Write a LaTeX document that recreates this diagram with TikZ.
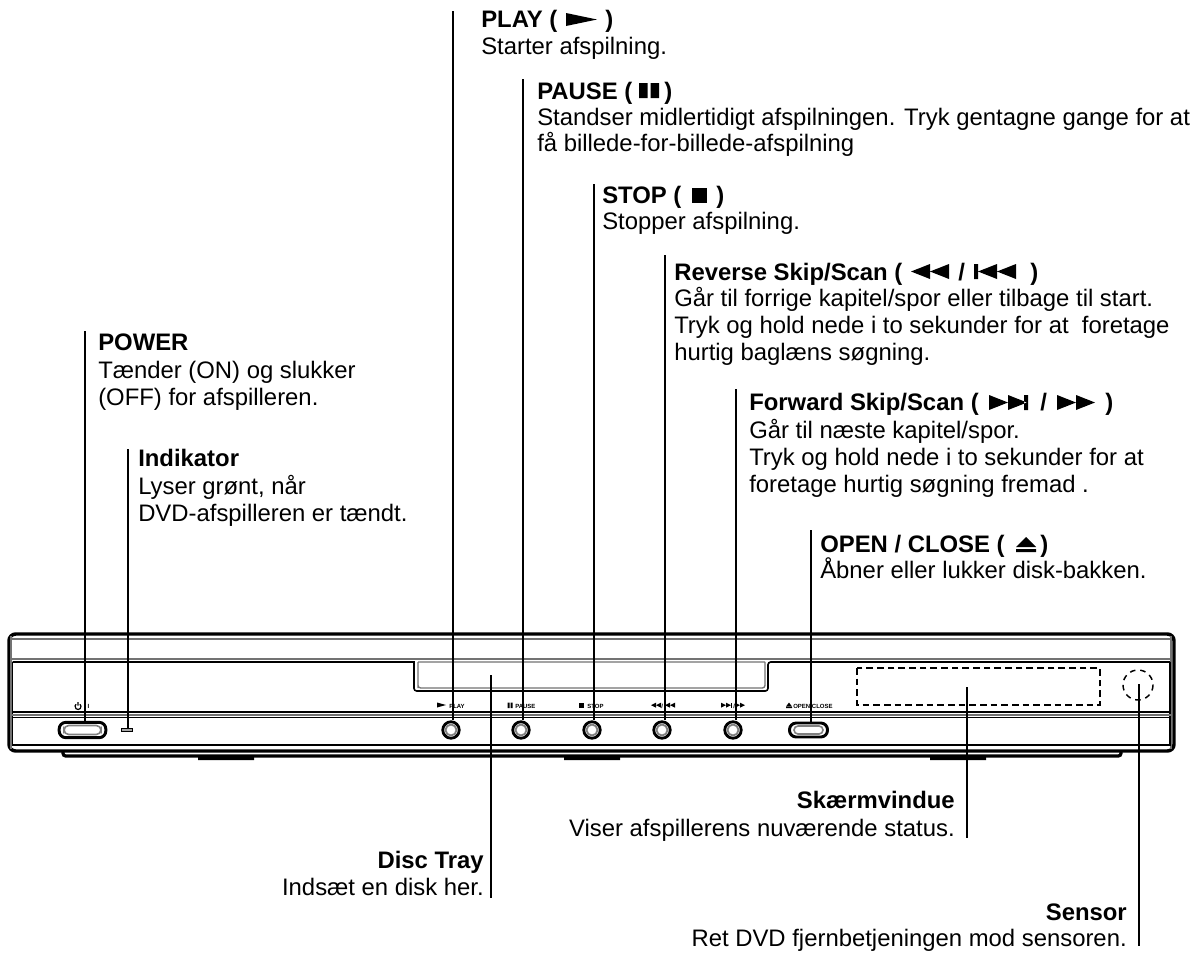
\documentclass[tikz,border=0pt]{standalone}
\usepackage{fontspec}
\setmainfont{Liberation Sans}
\tikzset{
 txt/.style={inner sep=0pt,anchor=base west,font=\fontsize{17.9pt}{20pt}\selectfont},
 head/.style={txt,font=\fontsize{17.9pt}{20pt}\selectfont\bfseries},
 rtxt/.style={txt,anchor=base east},
 rhead/.style={head,anchor=base east},
 tiny/.style={inner sep=0pt,anchor=base west,font=\fontsize{4.5pt}{5pt}\selectfont\bfseries},
 leader/.style={draw=black,line width=1.5pt},
 ring/.style={circle,draw=black,line width=2.1pt,minimum size=16.5pt*0.75,inner sep=0pt,fill=white},
 pill/.style={rounded corners=5pt,draw=black,line width=2.2pt,fill=white,inner sep=0pt},
 body/.style={draw=black,line width=2.6pt},
 thin/.style={draw=black,line width=.8pt},
 grey/.style={draw=black!55,line width=1pt},
 sym/.style={fill=black,draw=none}
}
\begin{document}
\begin{tikzpicture}[x=0.75pt,y=-0.75pt]
\useasboundingbox (0,0) rectangle (1200,954);
% ---- device
\draw[body,rounded corners=5pt,fill=white] (9,634) rectangle (1174,751);
\draw[grey] (11,639) -- (1172,639);
\draw[grey] (11,659) -- (1172,659);
\draw[grey] (11,636) -- (11,749) (1171,636) -- (1171,749);
\draw[thin,line width=1.2pt] (12.5,662) -- (414,662) -- (414,688) [rounded corners=2pt] -- (414,691) -- (768,691) -- (768,662) [sharp corners] -- (1170,662);
\draw[grey] (418,662) -- (418,688) [rounded corners=2pt] -- (418,688) -- (765,688) -- (765,662) (418,662) -- (765,662);
\draw[thin] (12.5,662) -- (12.5,745) (1170,662) -- (1170,745);
\draw[thin,line width=1.2pt] (12,712) -- (1171,712);
\draw[grey] (12,715) -- (1171,715);
\draw[thin] (12,717.5) -- (1171,717.5);
\draw[thin] (12,745) -- (1171,745);
\draw[line width=2.4pt,rounded corners=2pt] (63,752) -- (63,756) -- (1121,756) -- (1121,752);
\fill (198,756) rectangle (254,760) (564,756) rectangle (620,760) (930,756) rectangle (986,760);
% dashed window and sensor
\draw[line width=1.1pt,dash pattern=on 5pt off 3pt] (857,668) rectangle (1100,705);
\draw[line width=1.1pt,dash pattern=on 4.2pt off 3.6pt] (1138,685) circle (15);
% controls
\node[pill,minimum width=35pt,minimum height=11.5pt] (btnpower) at (82.5,730) {};
\draw[draw=black!50,line width=1.2pt,rounded corners=3.5pt] (64,725.5) rectangle (101,734.5);
\node[draw=black,line width=1.1pt,fill=black!35,minimum width=8pt,minimum height=2.2pt,inner sep=0pt] (led) at (127,730) {};
\node[ring] (btnplay) at (451,730) {};
\node[ring] (btnpause) at (521,730) {};
\node[ring] (btnstop) at (592,730) {};
\node[ring] (btnrev) at (662,730) {};
\node[ring] (btnfwd) at (733,730) {};
\foreach \p in {451,521,592,662,733} \draw[draw=black!50,line width=1.4pt] (\p,730) circle (5.5);
\node[pill,minimum width=28.5pt,minimum height=10.5pt] (btnopen) at (808.5,730) {};
\draw[draw=black!50,line width=1.2pt,rounded corners=3pt] (794,726) rectangle (823,734);
% panel captions
\draw[line width=.9pt] (78,706.5) ++(-50:3) arc (-50:230:3) (78,702) -- (78,705.5);
\node[tiny] (tpower) at (84,708.5) {/ I};
\fill[sym] (437,702.5) -- (446,705) -- (437,707.5) -- cycle;
\node[tiny] (tplay) at (449,708.5) {PLAY};
\fill[sym] (507.5,702.5) rectangle (509.5,708) (510.5,702.5) rectangle (512.5,708);
\node[tiny] (tpause) at (515,708.5) {PAUSE};
\fill[sym] (579,702.5) rectangle (584,708);
\node[tiny] (tstop) at (587,708.5) {STOP};
\foreach \a in {651,656} \fill[sym] (\a,705.2) -- (\a+5,702.7) -- (\a+5,707.7) -- cycle;
\node[tiny] (trev) at (661,708.5) {/};
\fill[sym] (664,702.7) rectangle (665,707.7);
\foreach \a in {665,670} \fill[sym] (\a,705.2) -- (\a+5,702.7) -- (\a+5,707.7) -- cycle;
\foreach \a in {721,726} \fill[sym] (\a,702.7) -- (\a+5,705.2) -- (\a,707.7) -- cycle;
\fill[sym] (731,702.7) rectangle (732,707.7);
\node[tiny] (tfwd) at (733,708.5) {/};
\foreach \a in {735,740} \fill[sym] (\a,702.7) -- (\a+5,705.2) -- (\a,707.7) -- cycle;
\fill[sym] (786,706.5) -- (789,702.5) -- (792,706.5) -- cycle (786,707) rectangle (792,708.2);
\node[tiny] (topen) at (793,708.5) {OPEN/CLOSE};
% ---- leaders
\coordinate (lplay) at (453,11);
\coordinate (lpause) at (523,79);
\coordinate (lstop) at (594,184);
\coordinate (lrev) at (665,255);
\coordinate (lfwd) at (735.5,389);
\coordinate (lopen) at (810.5,530);
\coordinate (lpower) at (85,331);
\coordinate (lind) at (127.5,449);
\coordinate (ltray) at (491,675);
\coordinate (ltrayb) at (491,898);
\coordinate (lscr) at (966.5,687);
\coordinate (lscrb) at (966.5,838);
\coordinate (lsen) at (1139,684);
\coordinate (lsenb) at (1139,946);
\draw[leader] (lplay) -- (lplay |- btnplay.north);
\draw[leader] (lpause) -- (lpause |- btnpause.north);
\draw[leader] (lstop) -- (lstop |- btnstop.north);
\draw[leader] (lrev) -- (lrev |- btnrev.north);
\draw[leader] (lfwd) -- (lfwd |- btnfwd.north);
\draw[leader] (lopen) -- (lopen |- btnopen.north);
\draw[leader] (lpower) -- (lpower |- btnpower.north);
\draw[leader] (lind) -- (lind |- led.north);
\draw[leader] (ltray) -- (ltrayb);
\draw[leader] (lscr) -- (lscrb);
\draw[leader] (lsen) -- (lsenb);
% ---- texts
\node[head] (h1) at (481,27) {PLAY (};
\fill[sym] (566,13) -- (597,19.5) -- (566,26) -- cycle;
\node[head] (h1b) at (605,27) {)};
\node[txt] (t1) at (481,54) {Starter afspilning.};
\node[head] (h2) at (537,99) {PAUSE (};
\fill[sym] (639,83) rectangle (647.5,98) (650.5,83) rectangle (659,98);
\node[head] (h2b) at (664,99) {)};
\node[txt] (t2a) at (537,125) {Standser midlertidigt afspilningen. Tryk gentagne gange for at};
\node[txt] (t2b) at (537,151) {få billede-for-billede-afspilning};
\node[head] (h3) at (602,203) {STOP (};
\fill[sym] (692,188) rectangle (707,203);
\node[head] (h3b) at (716,203) {)};
\node[txt] (t3) at (602,229) {Stopper afspilning.};
\node[head] (h4) at (674,280) {Reverse Skip/Scan (};
\fill[sym] (911,271.5) -- (930,264) -- (930,279) -- cycle (930,271.5) -- (949,264) -- (949,279) -- cycle;
\node[head] (h4s) at (958,280) {/};
\fill[sym] (974,264) rectangle (978,279) (978,271.5) -- (997,264) -- (997,279) -- cycle (997,271.5) -- (1016,264) -- (1016,279) -- cycle;
\node[head] (h4b) at (1030,280) {)};
\node[txt] (t4a) at (674,306) {Går til forrige kapitel/spor eller tilbage til start.};
\node[txt] (t4b) at (674,333) {Tryk og hold nede i to sekunder for at \ foretage};
\node[txt] (t4c) at (674,360) {hurtig baglæns søgning.};
\node[head] (h5) at (749,410) {Forward Skip/Scan (};
\fill[sym] (989,395) -- (1008,402.5) -- (989,410) -- cycle (1008,395) -- (1027,402.5) -- (1008,410) -- cycle (1024,395) rectangle (1028,410);
\node[head] (h5s) at (1040,410) {/};
\fill[sym] (1057,395) -- (1076,402.5) -- (1057,410) -- cycle (1076,395) -- (1095,402.5) -- (1076,410) -- cycle;
\node[head] (h5b) at (1105,410) {)};
\node[txt] (t5a) at (749,438) {Går til næste kapitel/spor.};
\node[txt] (t5b) at (749,465) {Tryk og hold nede i to sekunder for at};
\node[txt] (t5c) at (749,492) {foretage hurtig søgning fremad .};
\node[head] (h6) at (820,552) {OPEN / CLOSE (};
\fill[sym] (1016,547) -- (1026,537) -- (1036,547) -- cycle (1016,549) rectangle (1036,552);
\node[head] (h6b) at (1040,552) {)};
\node[txt] (t6) at (820,578) {Åbner eller lukker disk-bakken.};
\node[head] (h7) at (98,350) {POWER};
\node[txt] (t7a) at (98,378) {Tænder (ON) og slukker};
\node[txt] (t7b) at (98,405) {(OFF) for afspilleren.};
\node[head] (h8) at (138,466) {Indikator};
\node[txt] (t8a) at (138,494) {Lyser grønt, når};
\node[txt] (t8b) at (138,521) {DVD-afspilleren er tændt.};
\node[rhead] (h9) at (484,868) {Disc Tray};
\node[rtxt] (t9) at (484,895) {Indsæt en disk her.};
\node[rhead] (h10) at (955,808) {Skærmvindue};
\node[rtxt] (t10) at (955,836) {Viser afspillerens nuværende status.};
\node[rhead] (h11) at (1127,920) {Sensor};
\node[rtxt] (t11) at (1127,946) {Ret DVD fjernbetjeningen mod sensoren.};
\end{tikzpicture}
\end{document}
